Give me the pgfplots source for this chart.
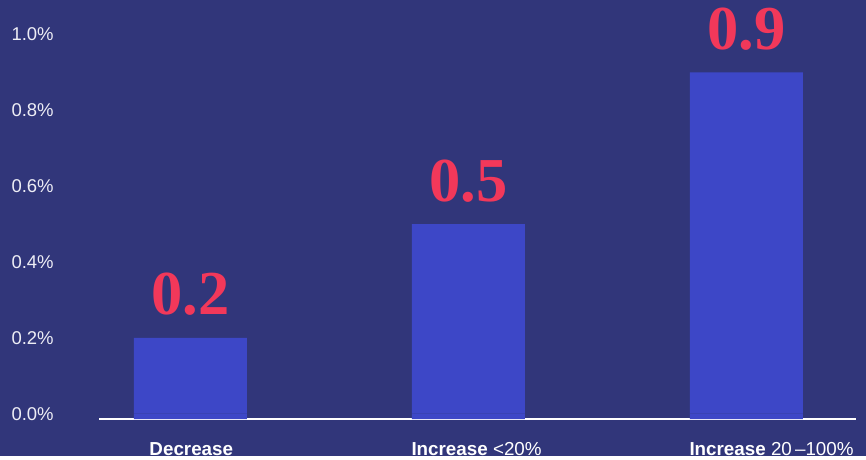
\documentclass[border=0pt]{standalone}
\usepackage{pgfplots}
\pgfplotsset{compat=1.18}
\usepackage{fontspec}
\setmainfont{Liberation Sans}
\newfontfamily\serifbold{Liberation Serif}
\definecolor{bg}{HTML}{31367A}
\definecolor{barc}{HTML}{3D47C7}
\definecolor{lab}{HTML}{F2385A}
\definecolor{tickc}{HTML}{EDEDF5}
\begin{document}
\begin{tikzpicture}[x=1pt,y=1pt]
\fill[bg] (0,0) rectangle (866,456);
\begin{axis}[
  at={(99pt,37pt)}, anchor=south west,
  scale only axis, width=757pt, height=384.5pt,
  ymin=-0.014, ymax=1.0, xmin=-0.329, xmax=2.394,
  clip=false,
  axis x line*=bottom, axis y line*=left,
  x axis line style={-, draw=white, line width=1.5pt},
  y axis line style={draw=none},
  tick style={draw=none},
  ytick={0,0.2,0.4,0.6,0.8,1.0},
  yticklabel={\pgfmathprintnumber[fixed,fixed zerofill,precision=1,assume math mode=true]{\tick}\%},
  yticklabel style={anchor=west, xshift=-91pt, text=tickc, font=\fontsize{18.5}{20}\selectfont},
  xtick={0,1,2},
  xticklabels={{\hspace*{16pt}\textbf{Decrease}},{\textbf{Increase} <20\%},{\textbf{Increase} 20\,–100\%}},
  xticklabel style={anchor=north west, xshift=-60.5pt, yshift=-16pt, text=white, font=\fontsize{18.8}{20}\selectfont},
  ybar, bar width=0.4065, bar shift=0pt,
]
% bars (values as labelled)
\addplot[fill=barc, draw=none,
  point meta=explicit symbolic, nodes near coords,
  nodes near coords style={anchor=base, yshift=23pt, text=lab, font=\fontsize{62.5}{64}\serifbold\bfseries}]
  coordinates {(0,0.2) [0.2] (1,0.5) [0.5] (2,0.9) [0.9]};
% bar feet reaching down to the baseline drawn just below zero
\addplot[fill=barc, draw=none, forget plot]
  coordinates {(0,-0.014) (1,-0.014) (2,-0.014)};
\end{axis}
\end{tikzpicture}
\end{document}
